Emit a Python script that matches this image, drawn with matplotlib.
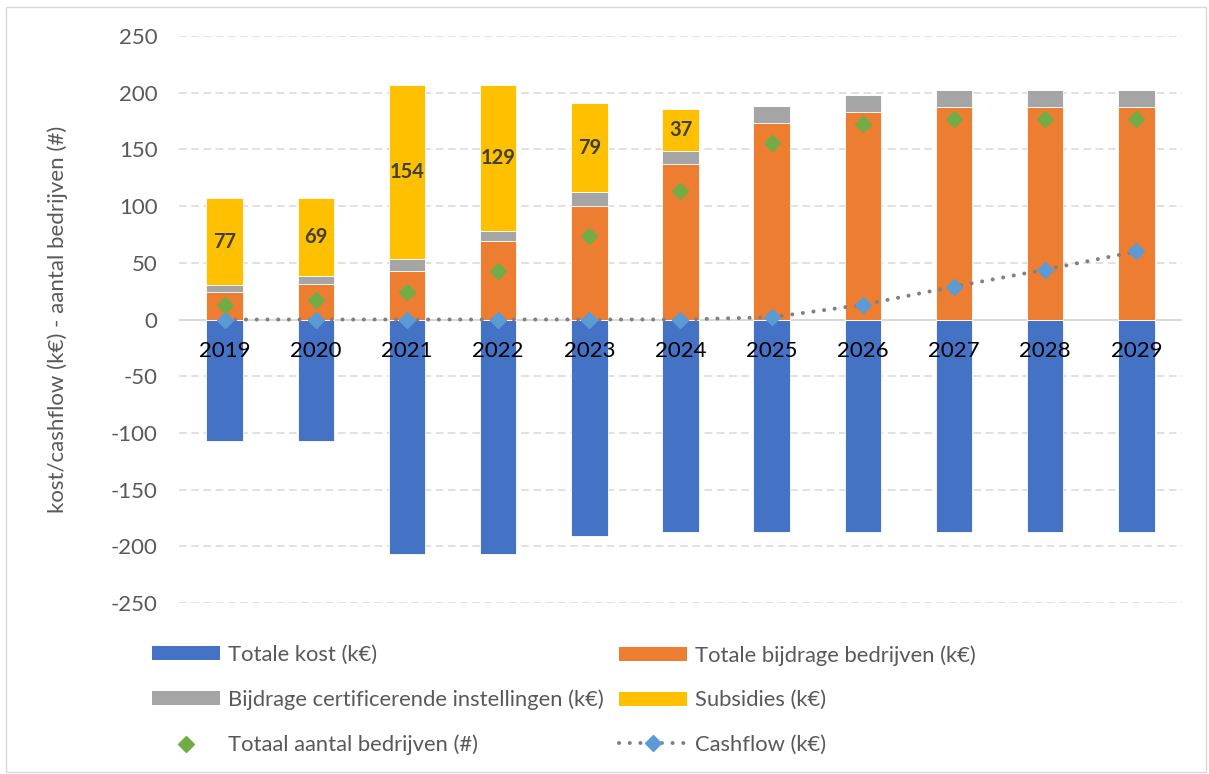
import matplotlib
matplotlib.use("Agg")
import matplotlib.pyplot as plt
from matplotlib.patches import Patch, Rectangle
from matplotlib.lines import Line2D
import numpy as np

plt.rcParams['font.family'] = ['Lato', 'DejaVu Sans']
plt.rcParams['axes.unicode_minus'] = False

years = ["2019", "2020", "2021", "2022", "2023", "2024", "2025", "2026", "2027", "2028", "2029"]
totale_kost = [-107, -107, -207, -207, -191, -187, -187, -187, -187, -187, -187]
bijdrage_bedrijven = [24, 31, 43, 69, 100, 137, 173, 183, 187, 187, 187]
bijdrage_cert = [6, 7, 10, 9, 12, 12, 15, 15, 15, 15, 15]
subsidies = [77, 69, 154, 129, 79, 37, 0, 0, 0, 0, 0]
aantal_bedrijven = [13, 17, 24, 43, 74, 113, 156, 172, 177, 177, 177]
cashflow = [0, 0, 0, 0, 0, 0, 2, 13, 29, 44, 60]
yticks = [-250, -200, -150, -100, -50, 0, 50, 100, 150, 200, 250]

C_BLUE = "#4472C4"
C_ORANGE = "#ED7D31"
C_GRAY = "#A5A5A5"
C_YELLOW = "#FFC000"
C_GREEN = "#70AD47"
C_LBLUE = "#5B9BD5"
C_LINE = "#808080"
TXT = "#595959"

W, H = 1209, 774
fig = plt.figure(figsize=(W / 100, H / 100), dpi=100)
ax = fig.add_axes([179 / W, 1 - 603 / H, (1182 - 179) / W, (603 - 36) / H])

x = np.arange(len(years))
bw = 0.40
ek = dict(edgecolor="white", linewidth=0.6)
ax.bar(x, totale_kost, bw, color=C_BLUE, zorder=2, **ek)
ax.bar(x, bijdrage_bedrijven, bw, color=C_ORANGE, zorder=2, **ek)
b1 = np.array(bijdrage_bedrijven)
ax.bar(x, bijdrage_cert, bw, bottom=b1, color=C_GRAY, zorder=2, **ek)
b2 = b1 + np.array(bijdrage_cert)
sub = np.array(subsidies)
ax.bar(x, sub, bw, bottom=b2, color=C_YELLOW, zorder=2, **ek)

for xi, s, b in zip(x, sub, b2):
    if s > 0:
        ax.text(xi, b + s / 2, str(s), ha="center", va="center",
                fontsize=14.5, fontweight="bold", color="#404040", zorder=5)

# gridlines
for t in yticks:
    if t == 0:
        continue
    ax.axhline(t, color="#D9D9D9", lw=1.1, ls=(0, (5, 3)), zorder=0)
ax.axhline(0, color="#D9D9D9", lw=1.5, zorder=1)

ax.plot(x, cashflow, color=C_LINE, lw=2.9, ls=(0, (0.01, 2.65)),
        dash_capstyle="round", zorder=3)
ax.plot(x, cashflow, ls="none", marker="D", ms=8.5, color=C_LBLUE, zorder=4)
ax.plot(x, aantal_bedrijven, ls="none", marker="D", ms=8.5, color=C_GREEN, zorder=4)

for xi, lab in zip(x, years):
    ax.annotate(lab, (xi, 0), xytext=(0, -15.5), textcoords="offset points",
                ha="center", va="top", fontsize=16, color="black", zorder=5)

ax.set_xlim(-0.5, len(years) - 0.5)
ax.set_ylim(-250, 250)
ax.set_yticks(yticks)
ax.set_xticks([])
ax.tick_params(axis="y", length=0, pad=15.5, labelsize=16, labelcolor=TXT)
for sp in ax.spines.values():
    sp.set_visible(False)
ax.set_ylabel("kost/cashflow (k€) - aantal bedrijven (#)", fontsize=16, color=TXT)
ax.yaxis.set_label_coords((68 - 179) / (1182 - 179), 0.5)

# figure border
fig.add_artist(Rectangle((6 / W, 1 - 772 / H), (1206 - 6) / W, (772 - 7) / H,
                         transform=fig.transFigure, fill=False,
                         edgecolor="#D9D9D9", lw=1))

h_kost = Patch(facecolor=C_BLUE)
h_bijd = Patch(facecolor=C_ORANGE)
h_cert = Patch(facecolor=C_GRAY)
h_sub = Patch(facecolor=C_YELLOW)
h_aant = Line2D([], [], ls="none", marker="D", ms=8.5, color=C_GREEN)
h_cash = Line2D([], [], color=C_LINE, lw=2.9, ls=(0, (0.01, 2.65)),
                dash_capstyle="round", marker="D", ms=8.5,
                markerfacecolor=C_LBLUE, markeredgecolor=C_LBLUE)

fs = 15.8
lkw = dict(fontsize=fs, frameon=False, handlelength=3.1, handleheight=0.61,
           handletextpad=0.38, labelspacing=1.12, labelcolor=TXT,
           borderpad=0, borderaxespad=0, loc="center left")
leg1 = fig.legend([h_kost, h_cert, h_aant],
                  ["Totale kost (k€)", "Bijdrage certificerende instellingen (k€)",
                   "Totaal aantal bedrijven (#)"],
                  bbox_to_anchor=(152 / W, 1 - 700 / H), **lkw)
leg2 = fig.legend([h_bijd, h_sub, h_cash],
                  ["Totale bijdrage bedrijven (k€)", "Subsidies (k€)", "Cashflow (k€)"],
                  bbox_to_anchor=(619 / W, 1 - 700 / H), **lkw)

fig.savefig("out.png", dpi=100)
